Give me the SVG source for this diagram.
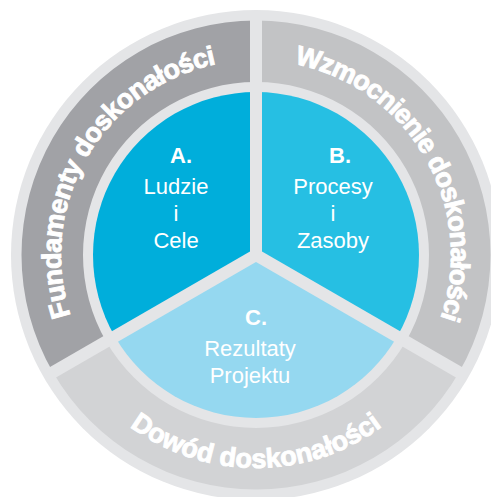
<svg xmlns="http://www.w3.org/2000/svg" width="491" height="497" viewBox="0 0 491 497">
<style>
.ring{font-family:"Liberation Sans",Arial,sans-serif;font-weight:bold;font-size:27px;fill:#ffffff;stroke:#ffffff;stroke-width:0.9px;}
.hd{font-family:"Liberation Sans",Arial,sans-serif;font-weight:bold;font-size:22px;fill:#ffffff;text-anchor:middle;}
.lb{font-family:"Liberation Sans",Arial,sans-serif;font-size:22px;fill:#ffffff;text-anchor:middle;}
.sep{stroke:#e4e5e7;stroke-width:12;fill:none;}
</style>
<defs>
<path id="pF" d="M 87.13 352.5 A 195 195 0 0 1 256 60"/>
<path id="pW" d="M 256 60 A 195 195 0 0 1 424.87 352.5"/>
<path id="pD" d="M 71.54 361.5 A 213 213 0 0 0 440.46 361.5"/>
</defs>
<rect width="491" height="497" fill="#ffffff"/>
<circle cx="256" cy="255" r="245" fill="#e4e5e7"/>
<g id="fundamenty">
<path d="M 256 20.5 A 234.5 234.5 0 0 0 52.92 372.25 L 106.18 341.5 A 173 173 0 0 1 256 82 Z" fill="#a1a2a6"/>
<text class="ring" text-anchor="middle" letter-spacing="-0.6"><textPath href="#pF" startOffset="50%">Fundamenty doskonałości</textPath></text>
</g>
<g id="wzmocnienie">
<path d="M 256 20.5 A 234.5 234.5 0 0 1 459.08 372.25 L 405.82 341.5 A 173 173 0 0 0 256 82 Z" fill="#c2c3c5"/>
<text class="ring" text-anchor="middle" letter-spacing="-0.9"><textPath href="#pW" startOffset="50%">Wzmocnienie doskonałości</textPath></text>
</g>
<g id="dowod">
<path d="M 52.92 372.25 A 234.5 234.5 0 0 0 459.08 372.25 L 405.82 341.5 A 173 173 0 0 1 106.18 341.5 Z" fill="#d2d3d5"/>
<text class="ring" text-anchor="middle" letter-spacing="0"><textPath href="#pD" startOffset="50%">Dowód doskonałości</textPath></text>
</g>
<g id="A">
<path d="M 256 255 L 256 92 A 163 163 0 0 0 114.84 336.5 Z" fill="#00aedb"/>
</g>
<g id="B">
<path d="M 256 255 L 256 92 A 163 163 0 0 1 397.16 336.5 Z" fill="#26bfe3"/>
</g>
<g id="C">
<path d="M 256 255 L 114.84 336.5 A 163 163 0 0 0 397.16 336.5 Z" fill="#95d8f0"/>
</g>
<g id="connectors">
<line class="sep" x1="256" y1="258" x2="256" y2="12"/>
<line class="sep" x1="258.6" y1="253.5" x2="47.8" y2="375.2"/>
<line class="sep" x1="253.4" y1="253.5" x2="464.2" y2="375.2"/>
</g>
<g id="labels">
<text class="hd" x="181" y="163">A.</text>
<text class="lb" x="176" y="194">Ludzie</text>
<text class="lb" x="176" y="221">i</text>
<text class="lb" x="176" y="248">Cele</text>
<text class="hd" x="340" y="163">B.</text>
<text class="lb" x="333" y="194">Procesy</text>
<text class="lb" x="333" y="221">i</text>
<text class="lb" x="333" y="248">Zasoby</text>
<text class="hd" x="256" y="325">C.</text>
<text class="lb" x="250" y="356">Rezultaty</text>
<text class="lb" x="250" y="383">Projektu</text>
</g>
</svg>
